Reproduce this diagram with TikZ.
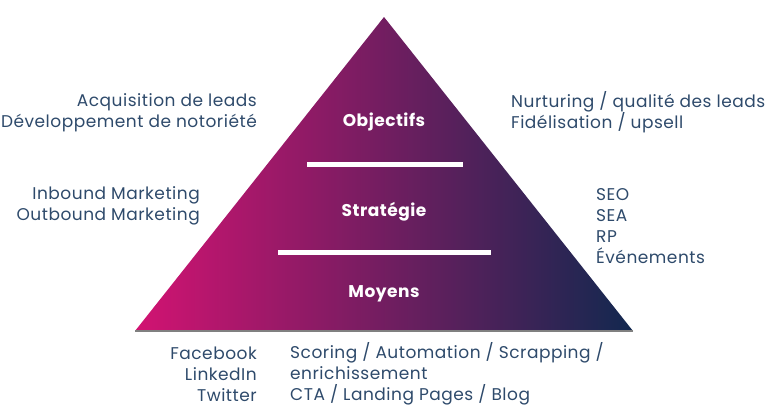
\documentclass[tikz,border=0pt]{standalone}
\usepackage{fontspec}
\setmainfont{Poppins}[LetterSpace=3]
\usetikzlibrary{positioning,calc}
\definecolor{pinkc}{HTML}{D21372}
\definecolor{navyc}{HTML}{12284F}
\definecolor{textc}{HTML}{2E4A6B}
\tikzset{
  lbl/.style={text=textc,font=\fontsize{17}{21}\selectfont,inner sep=0pt},
  tier/.style={text=white,font=\fontsize{17}{20}\selectfont\bfseries,inner sep=0pt},
  bar/.style={draw=white,line width=5pt}
}
\begin{document}
\begin{tikzpicture}[x=1pt,y=-1pt]
        \useasboundingbox (0,0) rectangle (768,410);
        % Pyramid
        \coordinate (top) at (384,17);
        \coordinate (bl) at (135,331);
        \coordinate (br) at (633,331);
        \shade[left color=pinkc,right color=navyc] (top) -- (br) -- (bl) -- cycle;
        \draw[gray,line width=1.5pt] (bl) -- (br);
        % Separators
        \draw[bar] (307,164) -- (463,164);
        \draw[bar] (278,252.5) -- (491,252.5);
        % Tiers
        \node[tier] (obj) at (384,121.5) {Objectifs};
        \node[tier] (strat) at (384,211.5) {Stratégie};
        \node[tier] (moy) at (384,293.5) {Moyens};
        % Left labels
        \node[lbl,align=right,anchor=east] (goalL) at (257,112.5) {Acquisition de leads\\Développement de notoriété};
        \node[lbl,align=right,anchor=east] (stratL) at (200,205.5) {Inbound Marketing\\Outbound Marketing};
        % Right labels
        \node[lbl,align=left,anchor=west] (goalR) at (511,112.5) {Nurturing / qualité des leads\\Fidélisation / upsell};
        \node[lbl,align=left,anchor=west] (stratR) at (596,226.5) {SEO\\SEA\\RP\\Événements};
        % Bottom labels
        \node[lbl,align=right,anchor=east] (meansL) at (257,374) {Facebook\\LinkedIn\\Twitter};
        \node[lbl,align=left,anchor=west] (meansR) at (290,374) {Scoring / Automation / Scrapping /\\enrichissement\\CTA / Landing Pages / Blog};
      \end{tikzpicture}
\end{document}
